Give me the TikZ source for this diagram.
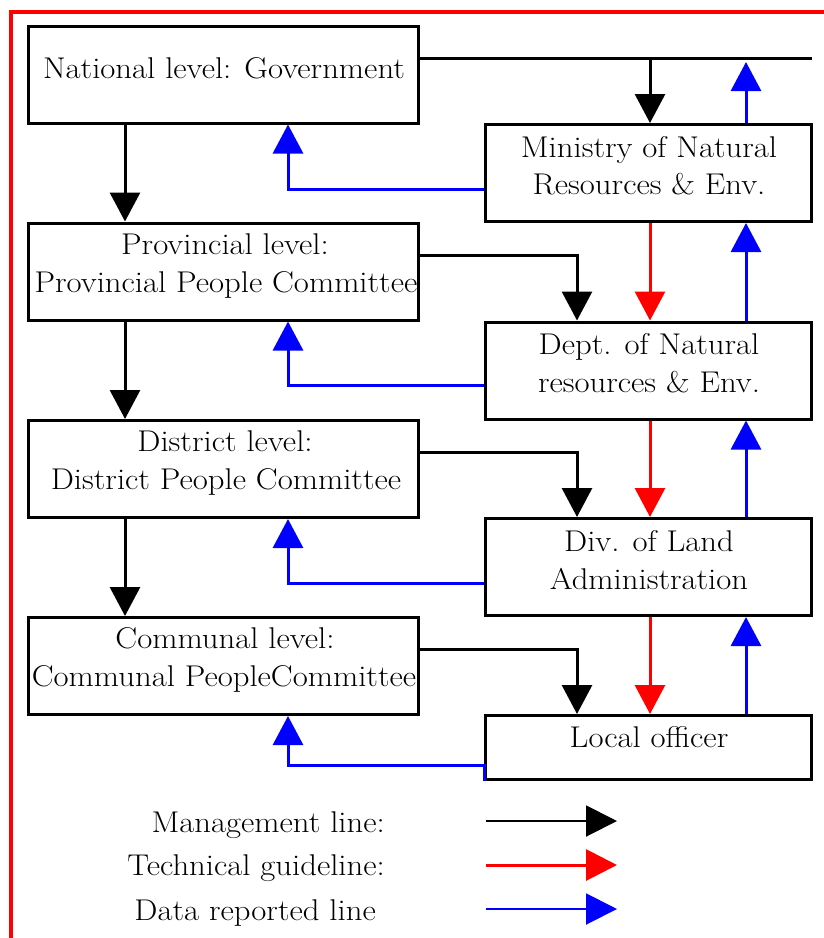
\documentclass[tikz,border=0pt]{standalone}
\usepackage{graphicx}
\usetikzlibrary{arrows.meta}
\newcommand{\wtxt}[1]{\scalebox{1.09}[1]{#1}}
\begin{document}
\begin{tikzpicture}[x=1pt,y=-1pt,
  box/.style={draw=black, line width=3pt, inner sep=0pt},
  lbox/.style={box, minimum width=390pt, minimum height=97pt},
  rbox/.style={box, minimum width=326pt, minimum height=97pt},
  txt/.style={font=\rmfamily\fontsize{30}{36}\selectfont, inner sep=0pt, anchor=base},
  legtxt/.style={font=\rmfamily\fontsize{30}{36}\selectfont, inner sep=0pt, anchor=base east},
  head/.style={-{Triangle[length=29pt,width=30pt]}},
  leghead/.style={-{Triangle[length=31pt,width=31pt]}},
  mgmt/.style={black, line width=3pt, head},
  tech/.style={red, line width=3pt, head},
  data/.style={blue, line width=3pt, head},
  mline/.style={black, line width=3pt}
]
\useasboundingbox (0,0) rectangle (824,938);
% red frame
\draw[red, line width=4pt] (824,12) -- (11,12) -- (11,938);

% boxes
\node[lbox] (nat)  at (223,74.5) {};
\node[lbox] (prov) at (223,271.5) {};
\node[lbox] (dist) at (223,469) {};
\node[lbox] (comm) at (223,666) {};
\node[rbox] (min)  at (648.5,173) {};
\node[rbox] (dept) at (648.5,370.5) {};
\node[rbox] (div)  at (648.5,567) {};
\node[rbox, minimum height=64pt] (loc) at (648.5,747.5) {};

% texts
\node[txt] (natT)   at (224,78)  {\wtxt{National level: Government}};
\node[txt] (provT1) at (225,254) {\wtxt{Provincial level:}};
\node[txt] (provT2) at (226,292) {\wtxt{Provincial People Committee}};
\node[txt] (distT1) at (225,451) {\wtxt{District level:}};
\node[txt] (distT2) at (226,489) {\wtxt{District People Committee}};
\node[txt] (commT1) at (225,648) {\wtxt{Communal level:}};
\node[txt] (commT2) at (224,686) {\wtxt{Communal PeopleCommittee}};
\node[txt] (minT1)  at (649,157) {\wtxt{Ministry of Natural}};
\node[txt] (minT2)  at (649,194) {\wtxt{Resources \& Env.}};
\node[txt] (deptT1) at (649,354) {\wtxt{Dept. of Natural}};
\node[txt] (deptT2) at (649,392) {\wtxt{resources \& Env.}};
\node[txt] (divT1)  at (649,551) {\wtxt{Div. of Land}};
\node[txt] (divT2)  at (649,589) {\wtxt{Administration}};
\node[txt] (locT)   at (649,747) {\wtxt{Local officer}};

% columns
\coordinate (cD) at (125,0);
\coordinate (cL) at (288,0);
\coordinate (cB) at (577,0);
\coordinate (cR) at (650,0);
\coordinate (cU) at (746,0);
\coordinate (topR) at (812,58);
\coordinate (topU) at (746,62);

% national -> ministry
\draw[mline] (nat.east |- topR) -- (topR);
\draw[mgmt] (cR |- topR) -- (cR |- min.north);
\draw[data] (cU |- min.north) -- (topU);
\draw[data] ([yshift=-16pt]min.west) -| (cL |- nat.south);

% management down left column
\draw[mgmt] (cD |- nat.south) -- (cD |- prov.north);
\draw[mgmt] (cD |- prov.south) -- (cD |- dist.north);
\draw[mgmt] (cD |- dist.south) -- (cD |- comm.north);

% management to right column
\draw[mgmt] ([yshift=16.5pt]prov.east) -| (cB |- dept.north);
\draw[mgmt] ([yshift=17pt]dist.east) -| (cB |- div.north);
\draw[mgmt] ([yshift=17pt]comm.east) -| (cB |- loc.north);

% technical
\draw[tech] (cR |- min.south) -- (cR |- dept.north);
\draw[tech] (cR |- dept.south) -- (cR |- div.north);
\draw[tech] (cR |- div.south) -- (cR |- loc.north);

% data up right column
\draw[data] (cU |- dept.north) -- (cU |- min.south);
\draw[data] (cU |- div.north) -- (cU |- dept.south);
\draw[data] (cU |- loc.north) -- (cU |- div.south);

% data to left column
\draw[data] ([yshift=-15pt]dept.west) -| (cL |- prov.south);
\draw[data] ([yshift=-16pt]div.west) -| (cL |- dist.south);
\draw[data] (loc.south west) -- ([yshift=-17.5pt]loc.west) -| (cL |- comm.south);

% legend
\node[legtxt] (lg1) at (385,832) {\wtxt{Management line:}};
\node[legtxt] (lg2) at (385,875) {\wtxt{Technical guideline:}};
\node[legtxt] (lg3) at (376,920) {\wtxt{Data reported line}};
\coordinate (l1a) at (486,821);
\coordinate (l1b) at (617,821);
\coordinate (l2a) at (486,865);
\coordinate (l2b) at (617,865);
\coordinate (l3a) at (486,909);
\coordinate (l3b) at (617,909);
\draw[black, line width=2pt, leghead] (l1a) -- (l1b);
\draw[red, line width=3pt, leghead] (l2a) -- (l2b);
\draw[blue, line width=2pt, leghead] (l3a) -- (l3b);
\end{tikzpicture}
\end{document}
